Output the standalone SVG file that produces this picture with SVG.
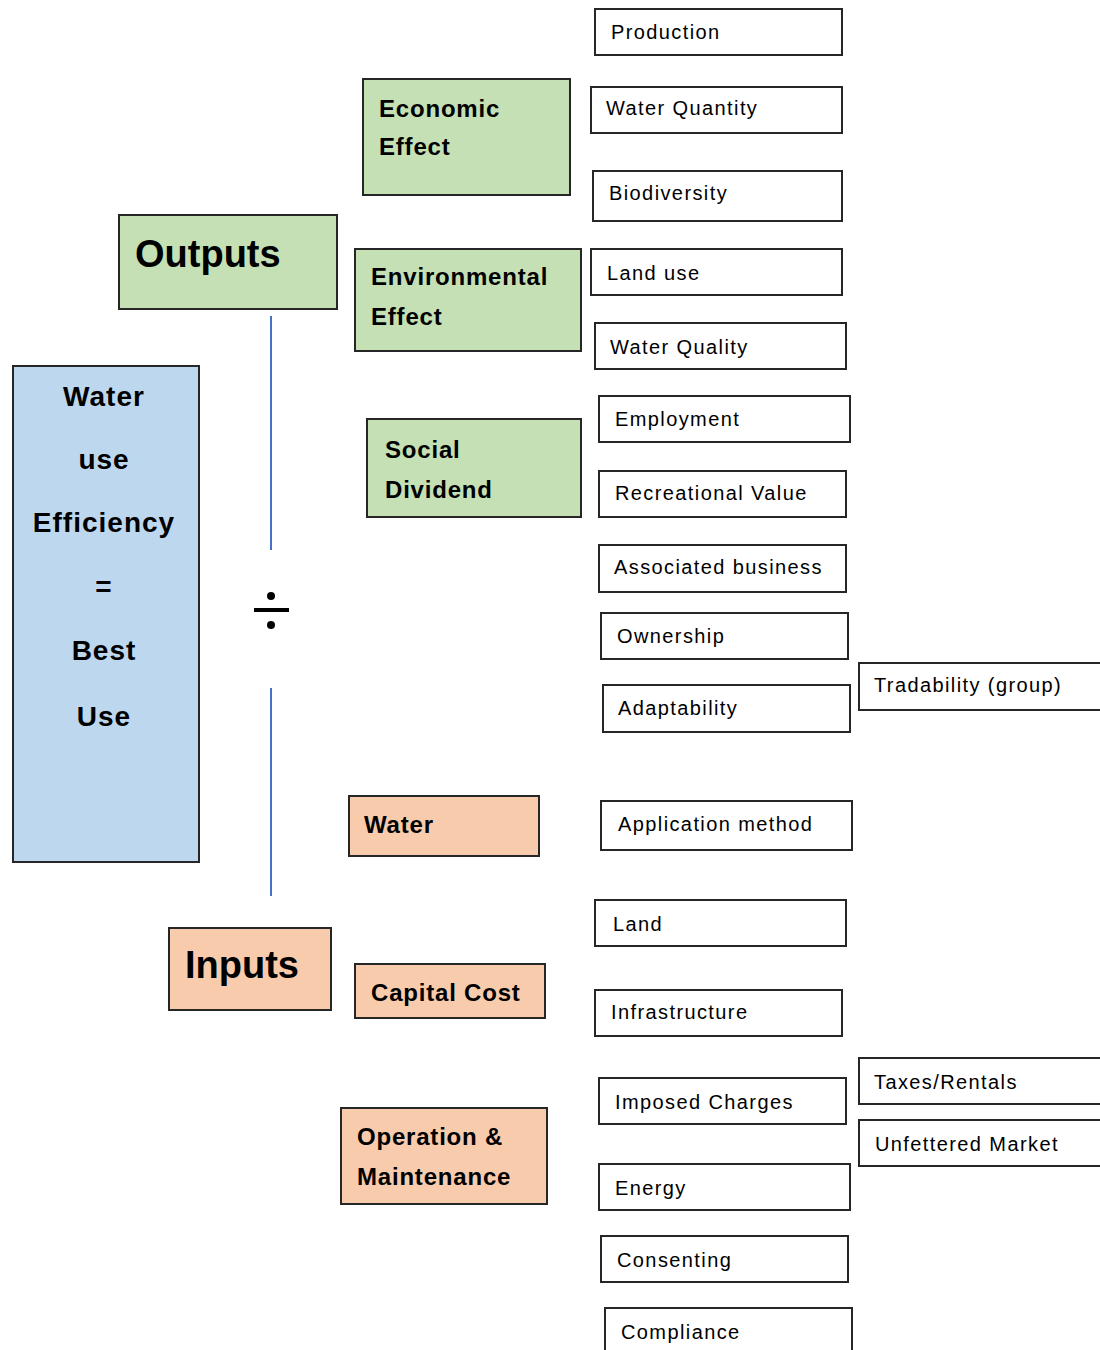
<svg xmlns="http://www.w3.org/2000/svg" width="1100" height="1350" viewBox="0 0 1100 1350">
<style>
rect{stroke:#262626;stroke-width:2}
.w{fill:#fff}
.g{fill:#C5E0B4}
.b{fill:#BDD7EE}
.p{fill:#F8CBAD}
text{font-family:"Liberation Sans",Arial,sans-serif;fill:#000}
.t{font-size:20px;letter-spacing:1.4px}
.h{font-size:24px;font-weight:bold;letter-spacing:0.8px}
.big{font-size:38px;font-weight:bold}
.side{font-size:28px;font-weight:bold;letter-spacing:1px;text-anchor:middle}
</style>
<rect width="1100" height="1350" fill="#fff" style="stroke:none"/>
<g id="connectors" stroke="#4472C4" stroke-width="2">
<line x1="271" y1="316" x2="271" y2="550"/>
<line x1="271" y1="688" x2="271" y2="896"/>
</g>
<g id="divide" fill="#000">
<circle cx="271" cy="596" r="4"/>
<rect x="254" y="608" width="35" height="4" style="stroke:none"/>
<circle cx="271" cy="625" r="4"/>
</g>
<g id="wue"><rect class="b" x="13" y="366" width="186" height="496"/>
<text class="side" x="104" y="406">Water</text>
<text class="side" x="104" y="469">use</text>
<text class="side" x="104" y="532">Efficiency</text>
<text class="side" x="104" y="596">=</text>
<text class="side" x="104" y="660">Best</text>
<text class="side" x="104" y="726">Use</text></g>
<g id="outputs"><rect class="g" x="119" y="215" width="218" height="94"/><text class="big" x="135" y="267">Outputs</text></g>
<g id="inputs"><rect class="p" x="169" y="928" width="162" height="82"/><text class="big" x="185" y="978">Inputs</text></g>
<g id="economic"><rect class="g" x="363" y="79" width="207" height="116"/><text class="h" x="379" y="117">Economic</text><text class="h" x="379" y="155">Effect</text></g>
<g id="environmental"><rect class="g" x="355" y="249" width="226" height="102"/><text class="h" x="371" y="285">Environmental</text><text class="h" x="371" y="325">Effect</text></g>
<g id="social"><rect class="g" x="367" y="419" width="214" height="98"/><text class="h" x="385" y="458">Social</text><text class="h" x="385" y="498">Dividend</text></g>
<g id="water"><rect class="p" x="349" y="796" width="190" height="60"/><text class="h" x="364" y="833">Water</text></g>
<g id="capital"><rect class="p" x="355" y="964" width="190" height="54"/><text class="h" x="371" y="1001">Capital Cost</text></g>
<g id="om"><rect class="p" x="341" y="1108" width="206" height="96"/><text class="h" x="357" y="1145">Operation &amp;</text><text class="h" x="357" y="1185">Maintenance</text></g>
<g id="production"><rect class="w" x="595" y="9" width="247" height="46"/><text class="t" x="611" y="39">Production</text></g>
<g id="waterquantity"><rect class="w" x="591" y="87" width="251" height="46"/><text class="t" x="606" y="115">Water Quantity</text></g>
<g id="biodiversity"><rect class="w" x="593" y="171" width="249" height="50"/><text class="t" x="609" y="200">Biodiversity</text></g>
<g id="landuse"><rect class="w" x="591" y="249" width="251" height="46"/><text class="t" x="607" y="280">Land use</text></g>
<g id="waterquality"><rect class="w" x="595" y="323" width="251" height="46"/><text class="t" x="610" y="354">Water Quality</text></g>
<g id="employment"><rect class="w" x="599" y="396" width="251" height="46"/><text class="t" x="615" y="426">Employment</text></g>
<g id="recreational"><rect class="w" x="599" y="471" width="247" height="46"/><text class="t" x="615" y="500">Recreational Value</text></g>
<g id="associated"><rect class="w" x="599" y="545" width="247" height="47"/><text class="t" x="614" y="574">Associated business</text></g>
<g id="ownership"><rect class="w" x="601" y="613" width="247" height="46"/><text class="t" x="617" y="643">Ownership</text></g>
<g id="adaptability"><rect class="w" x="603" y="685" width="247" height="47"/><text class="t" x="618" y="715">Adaptability</text></g>
<g id="tradability"><rect class="w" x="859" y="663" width="250" height="47"/><text class="t" x="874" y="692">Tradability (group)</text></g>
<g id="application"><rect class="w" x="601" y="801" width="251" height="49"/><text class="t" x="618" y="831">Application method</text></g>
<g id="land"><rect class="w" x="595" y="900" width="251" height="46"/><text class="t" x="613" y="931">Land</text></g>
<g id="infrastructure"><rect class="w" x="595" y="990" width="247" height="46"/><text class="t" x="611" y="1019">Infrastructure</text></g>
<g id="imposed"><rect class="w" x="599" y="1078" width="247" height="46"/><text class="t" x="615" y="1109">Imposed Charges</text></g>
<g id="taxes"><rect class="w" x="859" y="1058" width="250" height="46"/><text class="t" x="874" y="1089">Taxes/Rentals</text></g>
<g id="unfettered"><rect class="w" x="859" y="1120" width="250" height="46"/><text class="t" x="875" y="1151">Unfettered Market</text></g>
<g id="energy"><rect class="w" x="599" y="1164" width="251" height="46"/><text class="t" x="615" y="1195">Energy</text></g>
<g id="consenting"><rect class="w" x="601" y="1236" width="247" height="46"/><text class="t" x="617" y="1267">Consenting</text></g>
<g id="compliance"><rect class="w" x="605" y="1308" width="247" height="50"/><text class="t" x="621" y="1339">Compliance</text></g>
</svg>
